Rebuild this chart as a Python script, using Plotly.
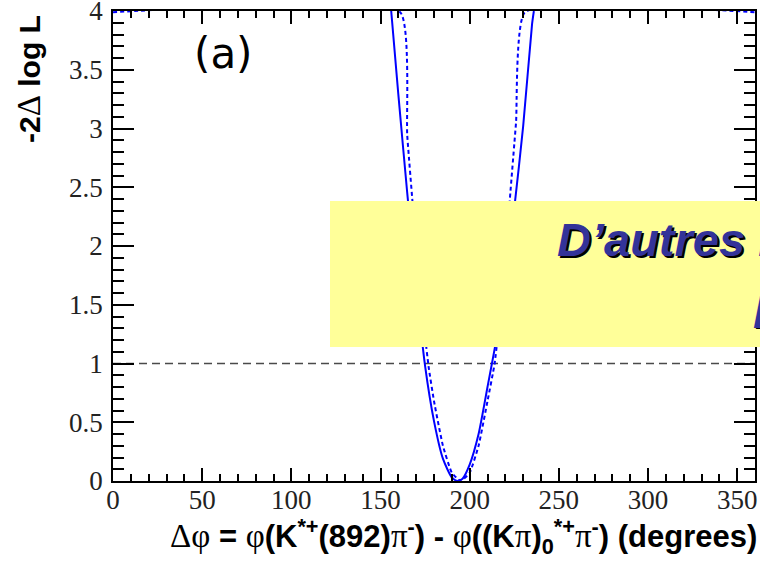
import plotly.graph_objects as go

# ---- data ----
solid_x = [156, 160, 165, 170, 175, 180, 185, 190, 193, 196, 200, 205, 210, 215, 220, 225, 230, 235, 236]
solid_y = [4.0, 3.29, 2.45, 1.66, 0.98, 0.51, 0.19, 0.03, 0.0, 0.02, 0.14, 0.40, 0.80, 1.21, 1.73, 2.32, 3.02, 3.89, 4.0]

dashed_x = [0, 161, 165, 170, 175, 177, 180, 185, 190, 195, 200, 205, 210, 214, 218, 222, 226, 231, 360]
dashed_y = [3.99, 3.99, 2.94, 2.0, 1.23, 0.97, 0.68, 0.30, 0.07, 0.0, 0.07, 0.30, 0.68, 1.0, 1.55, 2.3, 3.05, 3.99, 3.99]

ref_x = [0, 360]
ref_y = [1, 1]

x_ticks = [0, 50, 100, 150, 200, 250, 300, 350]
y_ticks = [0, 0.5, 1, 1.5, 2, 2.5, 3, 3.5, 4]
y_tick_labels = ["0", "0.5", "1", "1.5", "2", "2.5", "3", "3.5", "4"]

W, H = 760, 565
L, R, T, B = 113, 5, 11, 84
pw, ph = W - L - R, H - T - B

def px(xpix):
    return (xpix - L) / pw

def py(ypix):
    return (H - B - ypix) / ph

fig = go.Figure()
fig.add_trace(go.Scatter(x=ref_x, y=ref_y, mode="lines",
                         line=dict(color="#4a4a4a", width=1.5, dash="8px,5px"),
                         showlegend=False, hoverinfo="skip"))
fig.add_trace(go.Scatter(x=dashed_x, y=dashed_y, mode="lines",
                         line=dict(color="#0000ff", width=2, dash="4px,3px", shape="spline", smoothing=0.4),
                         showlegend=False, hoverinfo="skip"))
fig.add_trace(go.Scatter(x=solid_x, y=solid_y, mode="lines",
                         line=dict(color="#0000ff", width=2, shape="spline", smoothing=0.6),
                         showlegend=False, hoverinfo="skip"))

serif = "Liberation Serif, Times New Roman, serif"
sans = "Liberation Sans, Arial, sans-serif"

fig.update_layout(
    width=W, height=H,
    margin=dict(l=L, r=R, t=T, b=B, pad=0, autoexpand=False),
    plot_bgcolor="white", paper_bgcolor="white",
    showlegend=False,
    xaxis=dict(range=[0, 360], tickmode="array", tickvals=x_ticks,
               ticktext=[str(v) for v in x_ticks], automargin=False,
               ticks="inside", ticklen=13, tickwidth=1.5, tickcolor="black",
               minor=dict(dtick=10, ticks="inside", ticklen=7, tickwidth=1.5, tickcolor="black"),
               showline=True, linecolor="black", linewidth=1.5, mirror="allticks",
               showgrid=False, zeroline=False, ticklabeloverflow="allow",
               tickfont=dict(family=serif, size=27, color="#222"), ticklabelstandoff=-6),
    yaxis=dict(range=[0, 4], tickmode="array", tickvals=y_ticks, ticktext=y_tick_labels,
               automargin=False,
               ticks="inside", ticklen=21, tickwidth=1.5, tickcolor="black",
               minor=dict(dtick=0.1, ticks="inside", ticklen=11, tickwidth=1.5, tickcolor="black"),
               showline=True, linecolor="black", linewidth=1.5, mirror="allticks",
               showgrid=False, zeroline=False, ticklabeloverflow="allow",
               tickfont=dict(family=serif, size=27, color="#222"), ticklabelstandoff=3),
)

nb = "font-family:Liberation Serif;font-weight:normal;font-size:33px"
xtitle = (f"<span style='{nb}'>Δφ</span> = <span style='{nb}'>φ</span>(K<sup>*+</sup>(892)"
          f"<span style='{nb}'>π</span><sup>-</sup>) - <span style='{nb}'>φ</span>((K"
          f"<span style='{nb}'>π</span>)<sub>0</sub><sup>*+</sup>"
          f"<span style='{nb}'>π</span><sup>-</sup>) (degrees)")

annotations = [
    dict(text=xtitle, xref="paper", yref="paper", x=px(759), y=py(536),
         xanchor="right", yanchor="middle", showarrow=False,
         font=dict(family=sans, size=31, color="black", weight="bold")),
    dict(text="-2<span style='font-family:Liberation Serif;font-weight:normal;font-size:33px'>Δ</span> log L",
         xref="paper", yref="paper", x=px(29), y=py(13), textangle=-90,
         xanchor="center", yanchor="top", showarrow=False,
         font=dict(family=sans, size=30, color="black", weight="bold")),
    dict(text="(a)", xref="paper", yref="paper", x=px(192), y=py(53),
         xanchor="left", yanchor="middle", showarrow=False,
         font=dict(family="DejaVu Sans", size=42, color="black")),
]

# overlay box with shadowed text
for dx, dy, col in [(2, 2, "black"), (0, 0, "#333399")]:
    annotations.append(dict(text="D’autres mesures", xref="paper", yref="paper",
                            x=px(555 + dx), y=py(239 + dy), xanchor="left", yanchor="middle",
                            showarrow=False,
                            font=dict(family=sans, size=47, color=col, weight="bold", style="italic")))
    annotations.append(dict(text="Possibles", xref="paper", yref="paper",
                            x=px(751 + dx), y=py(311 + dy), xanchor="left", yanchor="middle",
                            showarrow=False,
                            font=dict(family=sans, size=47, color=col, weight="bold", style="italic")))

fig.update_layout(
    annotations=annotations,
    shapes=[dict(type="rect", xref="paper", yref="paper",
                 x0=px(330), x1=px(770), y0=py(347), y1=py(201),
                 fillcolor="#ffff99", line=dict(width=0), layer="above")],
)

fig.write_html("out.html", config={"displayModeBar": False},
               post_script="document.body.style.margin='0px';")
